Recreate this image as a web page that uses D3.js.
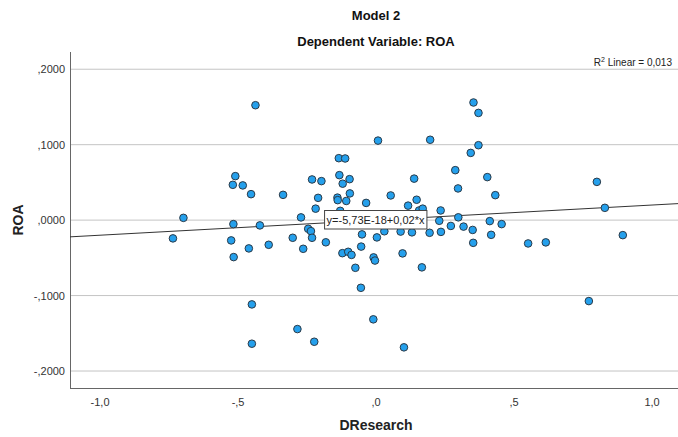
<!DOCTYPE html>
<html>
<head>
<meta charset="utf-8">
<script src="https://cdn.jsdelivr.net/npm/d3@7"></script>
<style>
  body { margin: 0; background: #fff; }
  svg { font-family: "Liberation Sans", Arial, sans-serif; }
</style>
</head>
<body>
<svg></svg>
<script>
const width = 678;
const height = 437;

// DResearch / ROA pairs
const dresearch = [-0.437, -0.510, -0.519, -0.483, -0.453, -0.337, -0.698, -0.517, -0.421, -0.736,
    -0.525, -0.302, -0.461, -0.389, -0.516, -0.272, -0.264, -0.450, -0.285, -0.450,
    -0.232, -0.198, -0.133, -0.210, -0.140, -0.139, -0.219, -0.246, -0.236, -0.232,
    -0.182, 0.007, 0.196, -0.135, -0.112, -0.121, -0.096, 0.138, 0.287, 0.297,
    -0.108, -0.095, -0.036, 0.053, 0.147, 0.116, -0.130, 0.156, 0.169, 0.234,
    -0.051, 0.003, 0.030, 0.089, 0.130, 0.194, 0.235, 0.271, 0.229, 0.298,
    -0.054, -0.122, -0.101, -0.089, -0.009, -0.004, 0.096, 0.343, 0.317, 0.350,
    0.352, -0.075, 0.166, -0.055, -0.010, -0.224, 0.101, 0.353, 0.371, 0.371,
    0.403, 0.432, 0.800, 0.829, 0.412, 0.455, 0.417, 0.551, 0.615, 0.894, 0.771];
const roa = [0.1523, 0.0583, 0.0468, 0.0460, 0.0344, 0.0335, 0.0030, -0.0053, -0.0070, -0.0242,
    -0.0269, -0.0234, -0.0375, -0.0327, -0.0490, 0.0036, -0.0380, -0.1117, -0.1444, -0.1638,
    0.0539, 0.0517, 0.0596, 0.0295, 0.0298, 0.0265, 0.0152, -0.0115, -0.0146, -0.0234,
    -0.0294, 0.1054, 0.1065, 0.0821, 0.0817, 0.0483, 0.0543, 0.0550, 0.0662, 0.0420,
    0.0254, 0.0354, 0.0228, 0.0327, 0.0270, 0.0192, 0.0123, 0.0128, 0.0152, 0.0128,
    -0.0189, -0.0229, -0.0148, -0.0152, -0.0162, -0.0168, -0.0156, -0.0077, -0.0009, 0.0037,
    -0.0351, -0.0438, -0.0420, -0.0461, -0.0494, -0.0536, -0.0441, 0.0891, -0.0086, -0.0130,
    -0.0301, -0.0632, -0.0626, -0.0897, -0.1315, -0.1612, -0.1686, 0.1559, 0.1421, 0.0993,
    0.0570, 0.0331, 0.0507, 0.0163, -0.0013, -0.0053, -0.0195, -0.0309, -0.0295, -0.0199, -0.1073];

const xTicks = [-1.0, -0.5, 0, 0.5, 1.0];
const xTickLabels = ['-1,0', '-,5', ',0', ',5', '1,0'];
const yTicks = [-0.2, -0.1, 0, 0.1, 0.2];
const yTickLabels = ['-,2000', '-,1000', ',0000', ',1000', ',2000'];

const intercept = -5.73e-18;
const slope = 0.02;

const points = dresearch.map((d, i) => ({ x: d, y: roa[i] }));

const margin = { left: 70, right: 0, top: 53, bottom: 49 };

const svg = d3.select('svg')
    .attr('width', width)
    .attr('height', height);

const x = d3.scaleLinear().domain([-1.109, 1.094]).range([margin.left, width - margin.right]);
const y = d3.scaleLinear().domain([-0.2225, 0.2215]).range([height - margin.bottom, margin.top]);

// grid
svg.append('g').selectAll('line')
    .data(yTicks).enter().append('line')
    .attr('x1', margin.left).attr('x2', width)
    .attr('y1', d => y(d)).attr('y2', d => y(d))
    .attr('stroke', '#c4c4c4')
    .attr('stroke-width', 1);

// axes lines
svg.append('line')
    .attr('x1', margin.left + 0.5).attr('x2', margin.left + 0.5)
    .attr('y1', margin.top - 1).attr('y2', height - margin.bottom)
    .attr('stroke', '#666');
svg.append('line')
    .attr('x1', margin.left).attr('x2', width)
    .attr('y1', height - margin.bottom + 0.5).attr('y2', height - margin.bottom + 0.5)
    .attr('stroke', '#666');

// tick labels
svg.append('g').selectAll('text')
    .data(yTicks).enter().append('text')
    .attr('x', margin.left - 5)
    .attr('y', d => y(d) + 4)
    .attr('text-anchor', 'end')
    .attr('font-size', 11)
    .attr('fill', '#333')
    .text((d, i) => yTickLabels[i]);

svg.append('g').selectAll('text')
    .data(xTicks).enter().append('text')
    .attr('x', d => x(d))
    .attr('y', height - margin.bottom + 18)
    .attr('text-anchor', 'middle')
    .attr('font-size', 11)
    .attr('fill', '#333')
    .text((d, i) => xTickLabels[i]);

// fit line
const xd = x.domain();
svg.append('line')
    .attr('x1', x(xd[0])).attr('x2', x(xd[1]))
    .attr('y1', y(intercept + slope * xd[0]))
    .attr('y2', y(intercept + slope * xd[1]))
    .attr('stroke', '#333')
    .attr('stroke-width', 1);

// points
svg.append('g').selectAll('circle')
    .data(points).enter().append('circle')
    .attr('cx', d => x(d.x))
    .attr('cy', d => y(d.y))
    .attr('r', 3.8)
    .attr('fill', '#25a0ec')
    .attr('stroke', '#2a3a48')
    .attr('stroke-width', 1);

// equation label
const eq = svg.append('g');
const eqText = eq.append('text')
    .attr('x', 375.5)
    .attr('y', 224)
    .attr('text-anchor', 'middle')
    .attr('font-size', 11)
    .attr('fill', '#222')
    .text('y=-5,73E-18+0,02*x');
const bb = eqText.node().getBBox();
eq.insert('rect', 'text')
    .attr('x', bb.x - 2)
    .attr('y', 210.5)
    .attr('width', bb.width + 4)
    .attr('height', 18.5)
    .attr('fill', '#fff')
    .attr('stroke', '#444')
    .attr('stroke-width', 1);

// R2 label
const r2 = svg.append('text')
    .attr('x', 672)
    .attr('y', 66)
    .attr('text-anchor', 'end')
    .attr('font-size', 10)
    .attr('fill', '#222');
r2.append('tspan').text('R');
r2.append('tspan').attr('dy', -4).attr('font-size', 7).text('2');
r2.append('tspan').attr('dy', 4).text(' Linear = 0,013');

// titles
svg.append('text')
    .attr('x', 376).attr('y', 20)
    .attr('text-anchor', 'middle')
    .attr('font-size', 13).attr('font-weight', 'bold')
    .attr('fill', '#111')
    .text('Model 2');
svg.append('text')
    .attr('x', 376).attr('y', 46)
    .attr('text-anchor', 'middle')
    .attr('font-size', 13).attr('font-weight', 'bold')
    .attr('fill', '#111')
    .text('Dependent Variable: ROA');

svg.append('text')
    .attr('x', 376).attr('y', 430)
    .attr('text-anchor', 'middle')
    .attr('font-size', 14).attr('font-weight', 'bold')
    .attr('fill', '#222')
    .text('DResearch');
svg.append('text')
    .attr('transform', 'translate(23,220) rotate(-90)')
    .attr('text-anchor', 'middle')
    .attr('font-size', 14).attr('font-weight', 'bold')
    .attr('fill', '#222')
    .text('ROA');
</script>
</body>
</html>
